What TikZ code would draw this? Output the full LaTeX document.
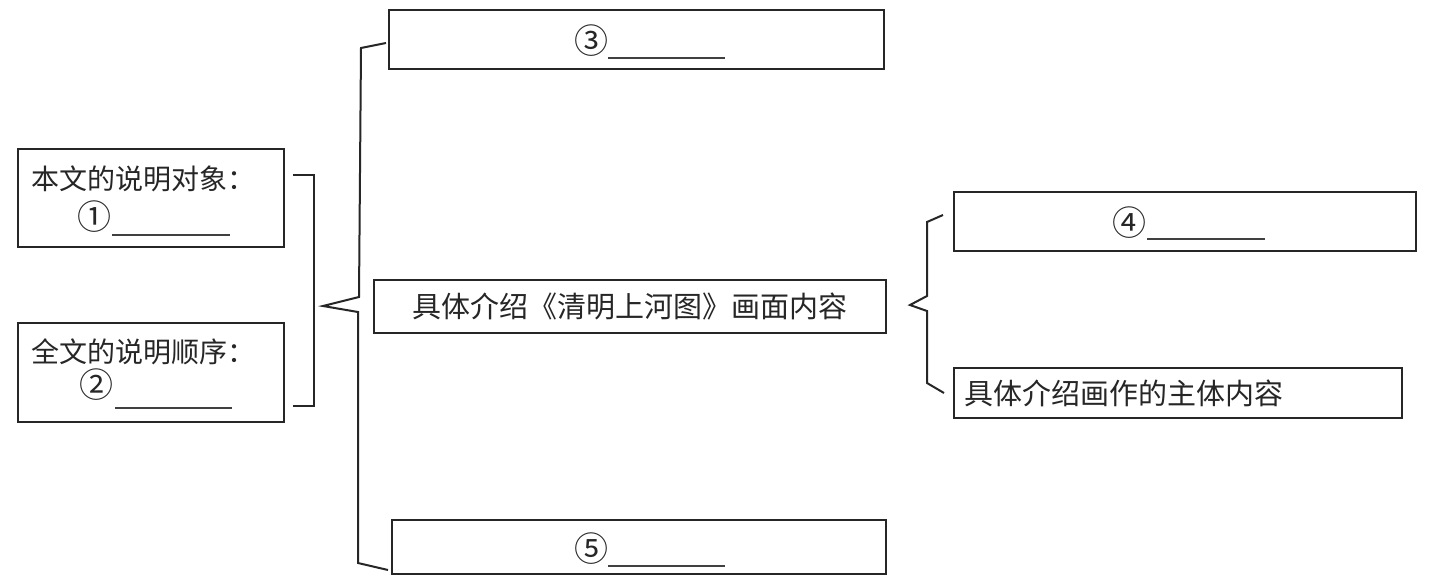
\documentclass[tikz,border=0pt]{standalone}
\usepackage{fontspec}
\newfontfamily\cjk{Noto Sans CJK SC}
\begin{document}
\begin{tikzpicture}[x=1pt,y=-1pt,
  boxnode/.style={draw=black!85, line width=2pt, inner sep=0pt, font=\cjk\fontsize{29}{34}\selectfont, text=black!85},
  txt/.style={inner sep=0pt, font=\cjk\fontsize{28}{34}\selectfont, text=black!85},
  num/.style={inner sep=0pt, font=\cjk\fontsize{34}{40}\selectfont, text=black!85},
  blank/.style={draw=black!75, line width=1.2pt},
  brace/.style={draw=black!85, line width=2pt, line join=miter}]
\useasboundingbox[fill=white] (0,0) rectangle (1449,581);
% boxes
\node[boxnode, minimum width=266pt, minimum height=98pt] (b1) at (151,198) {};
\node[boxnode, minimum width=266pt, minimum height=99pt] (b2) at (151,372.5) {};
\node[boxnode, minimum width=495pt, minimum height=59pt] (b3) at (636.5,39.5) {};
\node[boxnode, minimum width=512pt, minimum height=53pt] (bm) at (629.5,306.5) {具体介绍《清明上河图》画面内容};
\node[boxnode, minimum width=494pt, minimum height=54pt] (b5) at (639,547) {};
\node[boxnode, minimum width=462pt, minimum height=59pt] (b4) at (1185,221.5) {};
\node[boxnode, minimum width=448pt, minimum height=50pt] (b6) at (1178,393) {};
% texts
\node[txt] (t1) at (143,179) {本文的说明对象：};
\node[num] (n1) at (94,217) {①};
\node[txt] (t2) at (143,352) {全文的说明顺序：};
\node[num] (n2) at (96,385) {②};
\node[num] (n3) at (591.5,41) {③};
\node[num] (n4) at (1129.5,223) {④};
\node[num] (n5) at (591.5,549) {⑤};
\node[txt, font=\cjk\fontsize{29}{34}\selectfont, anchor=west] (t6) at (964,393) {具体介绍画作的主体内容};
% blanks
\coordinate (u1a) at (112,235); \coordinate (u1b) at (230,235);
\coordinate (u2a) at (115,408); \coordinate (u2b) at (232,408);
\coordinate (u3a) at (608,58); \coordinate (u3b) at (725,58);
\coordinate (u4a) at (1147,239); \coordinate (u4b) at (1265,239);
\coordinate (u5a) at (608,566); \coordinate (u5b) at (725,566);
\draw[blank] (u1a) -- (u1b);
\draw[blank] (u2a) -- (u2b);
\draw[blank] (u3a) -- (u3b);
\draw[blank] (u4a) -- (u4b);
\draw[blank] (u5a) -- (u5b);
% brackets
\draw[brace] (293,175) -- (314,175) -- (314,406) -- (293,406);
\draw[brace] (386,43) -- (361,48) -- (359,297) -- (323,306) -- (358,312) -- (358,563) -- (388,570);
\draw[brace] (943,215) -- (927,222) -- (927,296) -- (910,305) -- (927,311) -- (927,383) -- (944,393);
\end{tikzpicture}
\end{document}
